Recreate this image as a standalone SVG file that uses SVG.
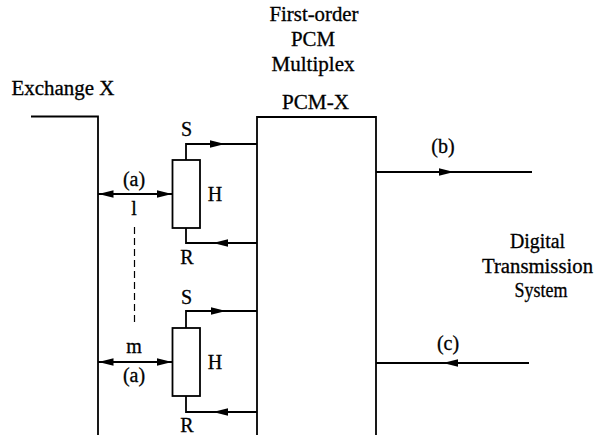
<svg xmlns="http://www.w3.org/2000/svg" xmlns:xlink="http://www.w3.org/1999/xlink" width="596" height="435" viewBox="0 0 596 435">
<style>
  text { font-family: "Liberation Serif", "Times New Roman", serif; font-size: 20px; fill: #000; stroke: #000; stroke-width: 0.3; }
  .c { text-anchor: middle; }
  .ln { fill: none; stroke: #000; stroke-width: 1.8; }
  .dash { fill: none; stroke: #000; stroke-width: 1.2; stroke-dasharray: 7 4; }
  .ah { fill: #000; stroke: none; }
</style>
<defs>
  <path id="ah" d="M0,0 L-15,-3.8 L-15,3.8 Z"/>
</defs>
<rect width="596" height="435" fill="#fff"/>

<g id="exchange-x">
  <path class="ln" d="M31,116.5 H98 V435"/>
  <text x="11.5" y="95" textLength="103" lengthAdjust="spacingAndGlyphs">Exchange X</text>
</g>

<g id="pcm-x">
  <path class="ln" d="M257,435 V117 H376 V435"/>
  <text class="c" x="314" y="21" textLength="89" lengthAdjust="spacingAndGlyphs">First-order</text>
  <text class="c" x="313" y="46" textLength="44" lengthAdjust="spacingAndGlyphs">PCM</text>
  <text class="c" x="313" y="71" textLength="83" lengthAdjust="spacingAndGlyphs">Multiplex</text>
  <text class="c" x="315.5" y="109" textLength="67" lengthAdjust="spacingAndGlyphs">PCM-X</text>
</g>

<g id="hybrid-1">
  <rect class="ln" x="172.5" y="160" width="27.5" height="68"/>
  <text class="c" x="186.5" y="136">S</text>
  <text class="c" x="215" y="201">H</text>
  <text class="c" x="187" y="264">R</text>
</g>

<g id="hybrid-m">
  <rect class="ln" x="172.5" y="328" width="27.5" height="68"/>
  <text class="c" x="186.5" y="304">S</text>
  <text class="c" x="215" y="369">H</text>
  <text class="c" x="187" y="432">R</text>
</g>

<g id="digital-transmission-system">
  <text class="c" x="537.5" y="248" textLength="55" lengthAdjust="spacingAndGlyphs">Digital</text>
  <text class="c" x="537.5" y="273" textLength="111" lengthAdjust="spacingAndGlyphs">Transmission</text>
  <text class="c" x="541" y="297" textLength="53" lengthAdjust="spacingAndGlyphs">System</text>
</g>

<g id="connectors">
  <!-- channel 1 -->
  <line class="ln" x1="98" y1="194" x2="172.5" y2="194"/>
  <use href="#ah" xlink:href="#ah" class="ah" transform="translate(98.5,194) rotate(180)"/>
  <use href="#ah" xlink:href="#ah" class="ah" transform="translate(172,194)"/>
  <path class="ln" d="M186,160 V144 H257"/>
  <use href="#ah" xlink:href="#ah" class="ah" transform="translate(225,144)"/>
  <path class="ln" d="M186,228 V243 H257"/>
  <use href="#ah" xlink:href="#ah" class="ah" transform="translate(213,243) rotate(180)"/>
  <text class="c" x="134" y="186">(a)</text>
  <text class="c" x="134" y="215">l</text>

  <line class="dash" x1="134.5" y1="227" x2="134.5" y2="323"/>

  <!-- channel m -->
  <line class="ln" x1="98" y1="362" x2="172.5" y2="362"/>
  <use href="#ah" xlink:href="#ah" class="ah" transform="translate(98.5,362) rotate(180)"/>
  <use href="#ah" xlink:href="#ah" class="ah" transform="translate(172,362)"/>
  <path class="ln" d="M186,328 V311 H257"/>
  <use href="#ah" xlink:href="#ah" class="ah" transform="translate(226,311)"/>
  <path class="ln" d="M186,396 V412 H257"/>
  <use href="#ah" xlink:href="#ah" class="ah" transform="translate(213,412) rotate(180)"/>
  <text class="c" x="134" y="353">m</text>
  <text class="c" x="134" y="382">(a)</text>

  <!-- (b) outgoing -->
  <line class="ln" x1="376" y1="172" x2="532" y2="172"/>
  <use href="#ah" xlink:href="#ah" class="ah" transform="translate(454,172)"/>
  <text class="c" x="443" y="153">(b)</text>

  <!-- (c) incoming -->
  <line class="ln" x1="376" y1="363" x2="529" y2="363"/>
  <use href="#ah" xlink:href="#ah" class="ah" transform="translate(443,363) rotate(180)"/>
  <text class="c" x="448" y="350">(c)</text>
</g>
</svg>
